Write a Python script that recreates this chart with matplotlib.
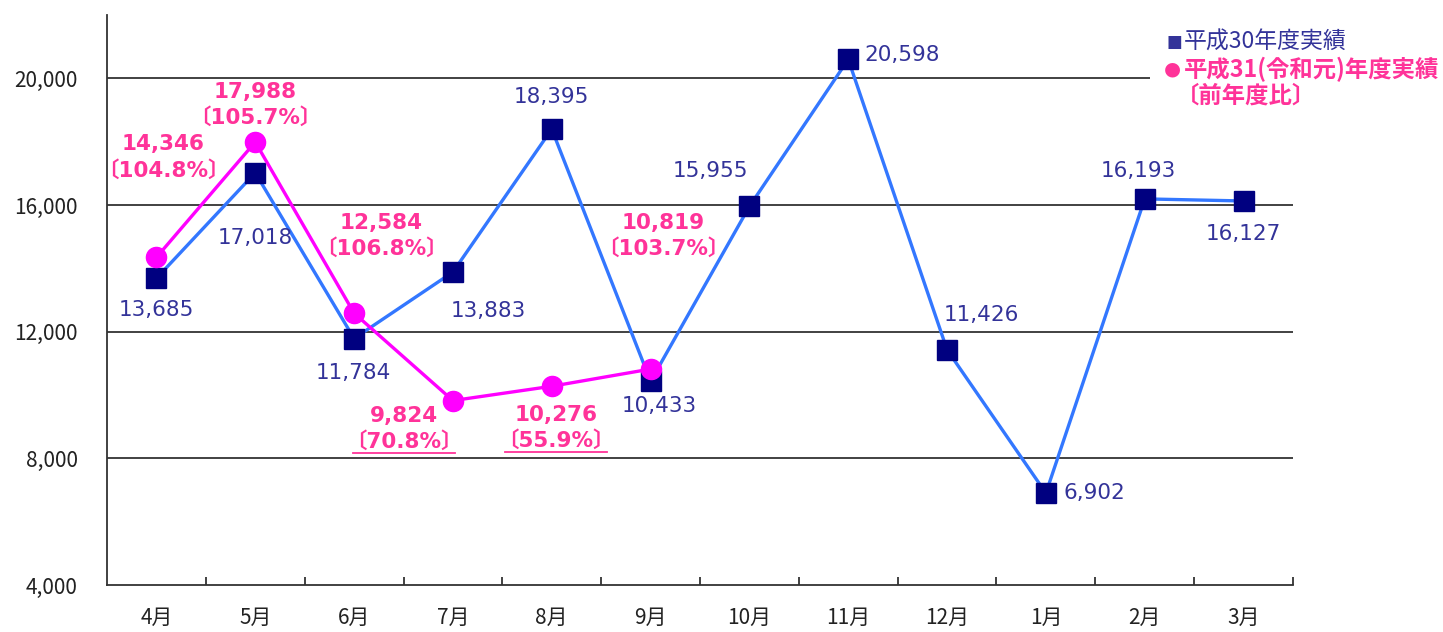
import matplotlib
matplotlib.use("Agg")
import matplotlib.pyplot as plt
import numpy as np
from matplotlib.patches import Rectangle

plt.rcParams['font.family'] = ['DejaVu Sans', 'Noto Sans CJK JP']

months = ['4月', '5月', '6月', '7月', '8月', '9月', '10月', '11月', '12月', '1月', '2月', '3月']
h30 = [13685, 17018, 11784, 13883, 18395, 10433, 15955, 20598, 11426, 6902, 16193, 16127]
h31 = [14346, 17988, 12584, 9824, 10276, 10819]
h31_ratio = [104.8, 105.7, 106.8, 70.8, 55.9, 103.7]
yticks = [4000, 8000, 12000, 16000, 20000]
legend_h30 = '平成30年度実績'
legend_h31 = '平成31(令和元)年度実績'
legend_h31b = '〔前年度比〕'

BLUE_LINE = '#3377ff'
NAVY = '#000080'
MAG = '#ff00ff'
LBL_BLUE = '#333399'
LBL_PINK = '#ff3399'

fig = plt.figure(figsize=(14.43, 6.32), dpi=100)
ax = fig.add_axes([107/1443, 47/632, (1293-107)/1443, (617-47)/632])

x = np.arange(len(months))
ax.set_xlim(-0.5, 11.5)
ax.set_ylim(4000, 22000)

for yv in yticks[1:]:
    ax.axhline(yv, color='#333333', lw=1.3, zorder=1)

ax.plot(x, h30, color=BLUE_LINE, lw=2.4, marker='s', ms=14.5, mfc=NAVY, mec=NAVY, zorder=3)
x31 = np.arange(len(h31))
ax.plot(x31, h31, color=MAG, lw=2.4, marker='o', ms=14.5, mfc=MAG, mec=MAG, zorder=4)

for s in ['top', 'right']:
    ax.spines[s].set_visible(False)
for s in ['left', 'bottom']:
    ax.spines[s].set_color('#333333')
    ax.spines[s].set_linewidth(1.3)

ax.set_yticks(yticks)
ax.set_yticklabels([f'{v:,}' for v in yticks], fontfamily=['Noto Sans CJK JP'], fontsize=15, color='#222222')
ax.tick_params(axis='y', length=0, pad=21)
ax.set_xticks(np.arange(0.5, 12, 1))
ax.set_xticklabels([])
ax.tick_params(axis='x', which='major', direction='in', length=6, width=1.3, color='#333333')
ax.set_xticks(x, minor=True)
ax.set_xticklabels(months, minor=True, fontfamily=['Noto Sans CJK JP'], fontsize=15, color='#222222')
ax.tick_params(axis='x', which='minor', length=0, pad=16)

# blue labels: (dx, dy, ha) in pixels
blue_off = [(0, -32, 'center'), (0, -65, 'center'), (-1, -34, 'center'), (35, -39, 'center'),
            (0, 32, 'center'), (9, -25, 'center'), (-39, 35, 'center'), (16, 4, 'left'),
            (34, 35, 'center'), (18, 0, 'left'), (-6, 28, 'center'), (0, -33, 'center')]
for i, v in enumerate(h30):
    dx, dy, ha = blue_off[i]
    ax.annotate(f'{v:,}', xy=(i, v), xytext=(dx, dy), textcoords='offset pixels',
                ha=ha, va='center', fontsize=15.5, color=LBL_BLUE, zorder=6)

pink_off = [(7, 100), (0, 37), (27, 77), (-49, -28), (4, -42), (13, 133)]
underline = [False, False, False, True, True, False]
texts_ul = []
for i, v in enumerate(h31):
    dx, dy = pink_off[i]
    t = ax.annotate(f'{v:,}\n〔{h31_ratio[i]:.1f}%〕', xy=(i, v), xytext=(dx, dy),
                    textcoords='offset pixels', ha='center', va='center', fontsize=15.5,
                    fontweight='bold', color=LBL_PINK, linespacing=1.3, zorder=6,
                    multialignment='center')
    if underline[i]:
        texts_ul.append(t)

fig.canvas.draw()
r = fig.canvas.get_renderer()
for t in texts_ul:
    bb = t.get_window_extent(r)
    yline = bb.y0 - 1
    fig.add_artist(plt.Line2D([bb.x0 + 8, bb.x1 - 8], [yline, yline], transform=None,
                              color=LBL_PINK, lw=1.3))

# white mask behind legend to cut gridline
fig.add_artist(Rectangle((1150/1443, 1 - 110/632), 290/1443, 85/632, transform=fig.transFigure,
                         facecolor='white', edgecolor='none', zorder=9))
# legend as text
fig.text(1166/1443, 1 - 42/632, '■', color=LBL_BLUE, fontsize=12, va='center', ha='left',
         fontfamily=['DejaVu Sans'], zorder=11)
fig.text(1184/1443, 1 - 42/632, legend_h30, color=LBL_BLUE, fontsize=16.5, va='center', ha='left',
         fontfamily=['Noto Sans CJK JP'], zorder=11)
fig.text(1164/1443, 1 - 69/632, '●', color=LBL_PINK, fontsize=14, va='center', ha='left',
         fontfamily=['DejaVu Sans'], zorder=11)
fig.text(1184/1443, 1 - 69/632, legend_h31, color=LBL_PINK, fontsize=16.8, fontweight='bold',
         va='center', ha='left', fontfamily=['Noto Sans CJK JP'], zorder=11)
fig.text(1176/1443, 1 - 96/632, legend_h31b, color=LBL_PINK, fontsize=16.8, fontweight='bold',
         va='center', ha='left', fontfamily=['Noto Sans CJK JP'], zorder=11)

fig.savefig('out.png', dpi=100)
